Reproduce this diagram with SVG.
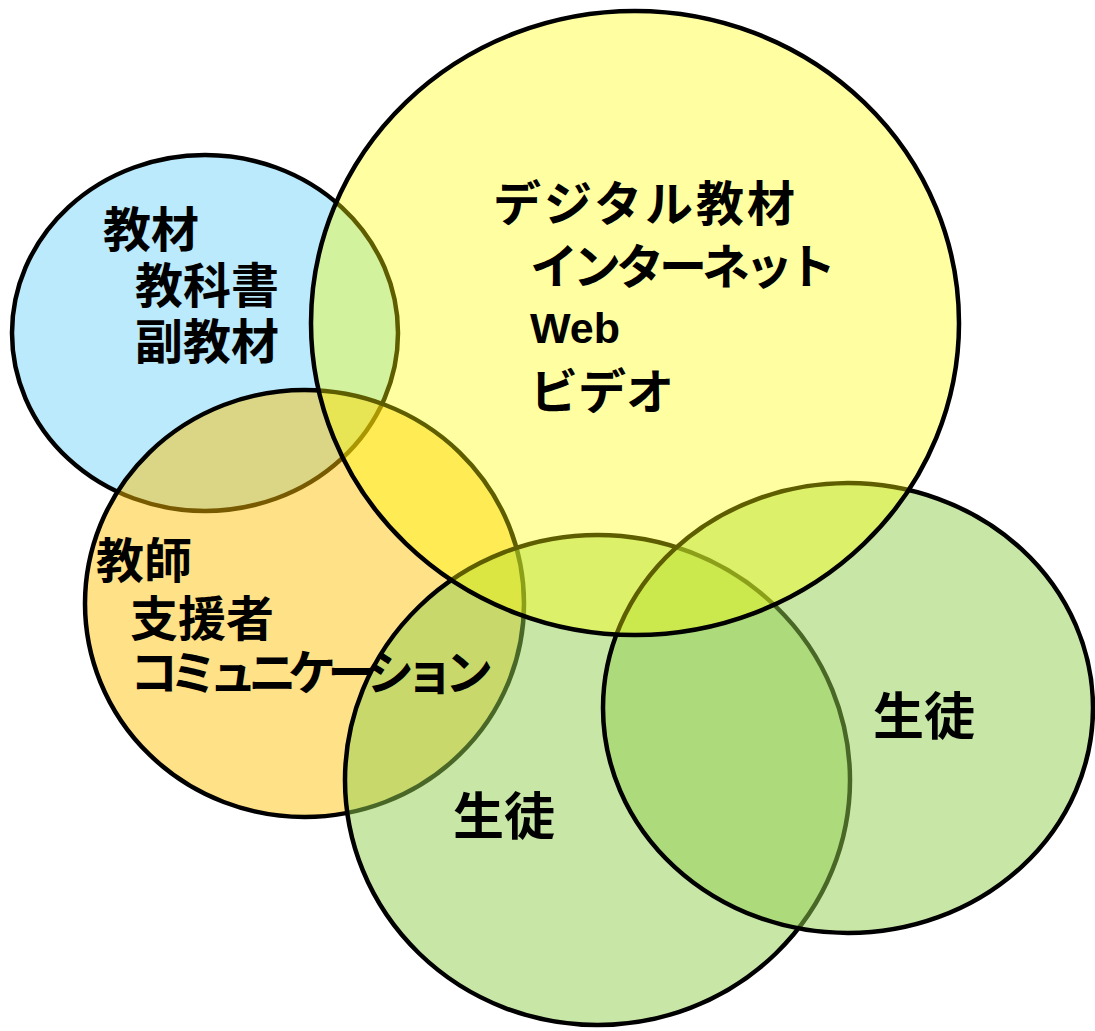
<svg xmlns="http://www.w3.org/2000/svg" width="1095" height="1031" viewBox="0 0 1095 1031">
<style>
.shape{stroke:#000;stroke-width:4.5}
.blue{fill:#00B0F0;fill-opacity:0.27}
.orange{fill:#FFC000;fill-opacity:0.47}
.green{fill:#92D050;fill-opacity:0.5}
.yellow{fill:#FFFF00;fill-opacity:0.37}
.t{font-family:"Noto Sans CJK JP","Noto Sans CJK SC",sans-serif;font-weight:700;font-size:48px;fill:#000}
.big{font-size:51px}
.lat{font-family:"Liberation Sans",Arial,sans-serif;font-weight:700;font-size:43px;fill:#000}
</style>
<rect width="1095" height="1031" fill="#fff"/>
<g id="shapes">
  <g id="node-materials"><ellipse class="shape blue" cx="205" cy="333" rx="193" ry="178"/></g>
  <g id="node-teacher"><ellipse class="shape orange" cx="304.5" cy="603.5" rx="219.5" ry="213.5"/></g>
  <g id="node-student1"><ellipse class="shape green" cx="597.5" cy="780" rx="252.5" ry="245"/></g>
  <g id="node-student2"><ellipse class="shape green" cx="848" cy="708" rx="245" ry="225"/></g>
  <g id="node-digital"><ellipse class="shape yellow" cx="635" cy="323" rx="324" ry="312"/></g>
</g>
<g id="labels">
  <g id="node-materials-label">
    <text class="t" x="103" y="247">教材</text>
    <text class="t" x="135" y="303">教科書</text>
    <text class="t" x="135" y="359">副教材</text>
  </g>
  <g id="node-digital-label">
    <text class="t" x="493" y="221" textLength="302">デジタル教材</text>
    <text class="t" x="530" y="284" textLength="306">インターネット</text>
    <text class="lat" x="530" y="343">Web</text>
    <text class="t" x="530" y="409">ビデオ</text>
  </g>
  <g id="node-teacher-label">
    <text class="t" x="96" y="578">教師</text>
    <text class="t" x="130" y="636">支援者</text>
    <text class="t" x="130" y="690" textLength="363">コミュニケーション</text>
  </g>
  <g id="node-student1-label"><text class="t big" x="453" y="835">生徒</text></g>
  <g id="node-student2-label"><text class="t big" x="873" y="735">生徒</text></g>
</g>
</svg>
